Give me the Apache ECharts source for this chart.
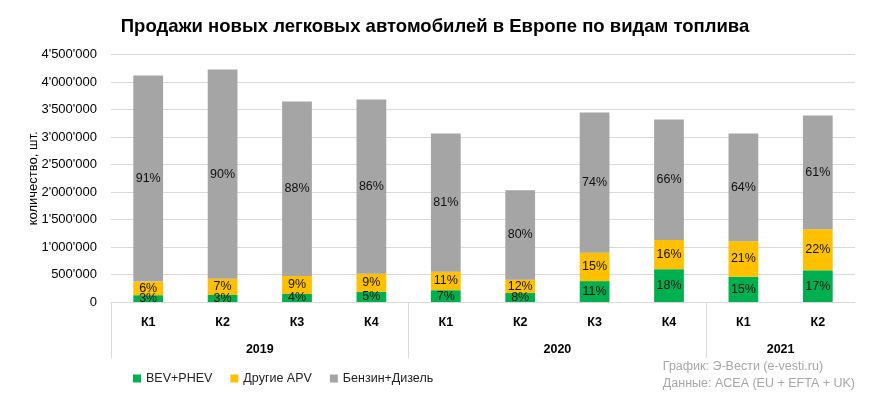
<!DOCTYPE html>
<html>
<head>
<meta charset="utf-8">
<script src="https://cdn.jsdelivr.net/npm/echarts@6/dist/echarts.min.js"></script>
<style>html,body{margin:0;padding:0;background:#fff}#c{width:870px;height:400px}</style>
</head>
<body>
<div id="c"></div>
<script>
const quarters = ['К1','К2','К3','К4','К1','К2','К3','К4','К1','К2'];
const years = ['2019','2020','2021'];
const yearSpans = [4, 4, 2];
const seriesNames = ['BEV+PHEV','Другие APV','Бензин+Дизель'];
const bev = [124000,127000,146000,184000,215000,163000,380000,598000,460000,577000];
const other = [247000,296000,329000,332000,337000,244000,518000,531000,644000,747000];
const ice = [3749000,3807000,3175000,3169000,2513000,1628000,2552000,2191000,1961000,2071000];
const bevPct = ['3%','3%','4%','5%','7%','8%','11%','18%','15%','17%'];
const otherPct = ['6%','7%','9%','9%','11%','12%','15%','16%','21%','22%'];
const icePct = ['91%','90%','88%','86%','81%','80%','74%','66%','64%','61%'];
const yTicks = {min: 0, max: 4500000, interval: 500000};

const FONT = '"Liberation Sans", Arial, sans-serif';
const grid = '#d9d9d9';

const bounds = [0]; yearSpans.forEach(s => bounds.push(bounds[bounds.length-1] + s));
const centres = years.map((y, i) => (bounds[i] + bounds[i+1]) / 2);
const yearAt = {}; centres.forEach((c, i) => yearAt[c] = years[i]);

function fmt(v){ return String(v).replace(/\B(?=(\d{3})+(?!\d))/g, "'"); }

function mk(name, data, labels, color){
  return {
    name, type: 'bar', stack: 'a', data, barCategoryGap: '60%',
    itemStyle: {color},
    label: {show: true, position: 'inside', color: '#111', fontFamily: FONT, fontSize: 12.5,
            formatter: p => labels[p.dataIndex]},
    emphasis: {disabled: true}
  };
}

const chart = echarts.init(document.getElementById('c'), null, {renderer: 'canvas'});
chart.setOption({
  animation: false,
  backgroundColor: '#fff',
  title: {
    text: 'Продажи новых легковых автомобилей в Европе по видам топлива',
    left: 'center', top: 12,
    textStyle: {fontFamily: FONT, fontWeight: 'bold', fontSize: 18.5, color: '#000'}
  },
  legend: {
    left: 128, top: 367, itemWidth: 8, itemHeight: 8, itemGap: 18, icon: 'rect',
    textStyle: {fontFamily: FONT, fontSize: 12.5, color: '#222'},
    data: seriesNames
  },
  graphic: [{
    type: 'text', right: 15, top: 358,
    style: {text: 'График: Э-Вести (e-vesti.ru)\nДанные: ACEA (EU + EFTA + UK)', align: 'right',
            fontFamily: FONT, fontSize: 12.5, lineHeight: 17, fill: '#a6a6a6'}
  }],
  grid: {left: 111, right: 15, top: 54.7, bottom: 98},
  xAxis: [{
    type: 'category', data: quarters, position: 'bottom',
    axisLine: {show: true, lineStyle: {color: grid}},
    axisTick: {show: false},
    axisLabel: {fontFamily: FONT, fontSize: 12.5, fontWeight: 'bold', color: '#000', margin: 14}
  }, {
    type: 'value', min: 0, max: bounds[bounds.length-1], position: 'bottom',
    axisLine: {show: false},
    splitLine: {show: false},
    axisTick: {show: true, customValues: bounds.slice(0, -1), length: 56, lineStyle: {color: grid}},
    axisLabel: {customValues: centres, formatter: v => yearAt[v] || '', fontFamily: FONT, fontSize: 12.5,
                fontWeight: 'bold', color: '#000', margin: 41}
  }],
  yAxis: {
    type: 'value', min: yTicks.min, max: yTicks.max, interval: yTicks.interval,
    name: 'количество, шт.', nameLocation: 'middle', nameGap: 71, nameRotate: 90,
    nameMoveOverlap: false,
    nameTextStyle: {fontFamily: FONT, fontSize: 13, color: '#000'},
    axisLine: {show: false}, axisTick: {show: false},
    splitLine: {lineStyle: {color: grid}},
    axisLabel: {fontFamily: FONT, fontSize: 13, color: '#000', margin: 14, formatter: fmt}
  },
  series: [
    mk(seriesNames[0], bev, bevPct, '#00b050'),
    mk(seriesNames[1], other, otherPct, '#ffc000'),
    mk(seriesNames[2], ice, icePct, '#a5a5a5')
  ]
});
</script>
</body>
</html>
